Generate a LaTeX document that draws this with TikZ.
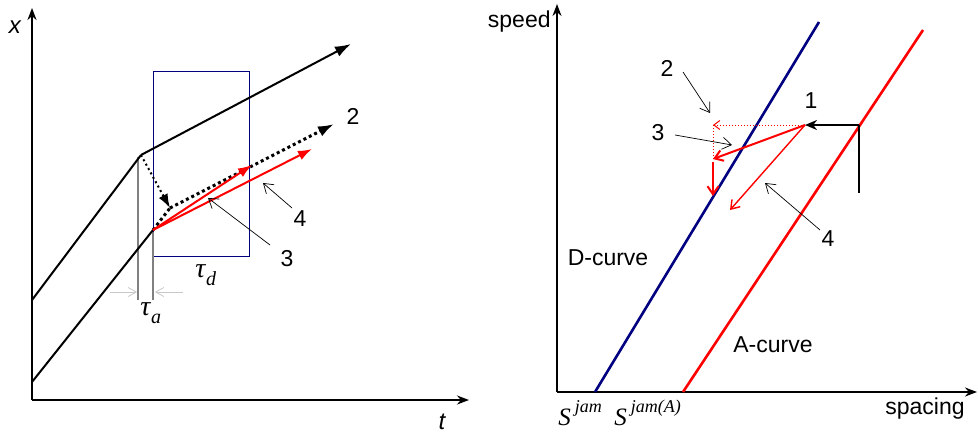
\documentclass[tikz,border=0pt]{standalone}
\usepackage{fontspec}
\setmainfont{Liberation Sans}
\newfontfamily\tms{Liberation Serif}
\definecolor{dblue}{HTML}{000080}
\definecolor{lgray}{HTML}{C8C8C8}
\usetikzlibrary{arrows.meta,calc}
\newcommand{\tauof}[1]{{\tms\itshape\fontsize{14}{16}\selectfont τ\kern0.3pt\raisebox{-0.3em}{\fontsize{10}{11}\selectfont #1}}}
\newcommand{\sjam}[1]{{\tms\itshape\fontsize{12.5}{14}\selectfont S\kern2pt\raisebox{0.5em}{\fontsize{9}{11}\selectfont #1}}}

\begin{document}
\begin{tikzpicture}[x=0.5pt,y=-0.5pt,
  axis/.style={-{Stealth[length=6pt,width=4.5pt]},line width=0.9pt},
  traj/.style={line width=1pt},
  lbl/.style={font=\fontsize{11.5}{13}\selectfont,inner sep=0pt},
  mlbl/.style={inner sep=0pt,anchor=base west},
  ptr/.style={-{Straight Barb[length=4.5pt,width=6pt]},line width=0.35pt},
  gtick/.style={lgray,line width=0.4pt,-{Straight Barb[length=4pt,width=4.5pt]}},
  dots/.style={dash pattern=on 1.5pt off 1.5pt,line width=1.5pt},
  rarr/.style={-{Latex[length=7pt,width=5pt]},red,line width=1pt},
  rbarb/.style={-{Straight Barb[length=4pt,width=5.5pt]},red,line width=1pt}]
  \useasboundingbox (0,0) rectangle (978,433);

  % ---- left: trajectories x(t)
  \coordinate (o1) at (32,400);
  \coordinate (xend) at (32,8);
  \coordinate (tend) at (469,400);
  \coordinate (u0) at (32,300);
  \coordinate (uk) at (141,155);
  \coordinate (ue) at (351,44);
  \coordinate (l0) at (32,382);
  \coordinate (lk) at (153,230);
  \coordinate (dk) at (170,208);
  \coordinate (de) at (334,124);
  \coordinate (r1) at (252,165);
  \coordinate (r2) at (312,149);
  \coordinate (va) at (138,157);
  \coordinate (vb) at (138,300);
  \coordinate (vc) at (153,232);
  \coordinate (vd) at (153,300);

  \draw[axis] (o1) -- (xend);
  \draw[axis] (o1) -- (tend);
  \node[lbl,font=\fontsize{12}{14}\selectfont\itshape] (xlab) at (15,27) {x};
  \node[lbl,font=\fontsize{12}{14}\selectfont\itshape] (tlab) at (442,422) {t};

  \node[draw=dblue,line width=0.5pt,minimum width=48pt,minimum height=92.5pt,
    inner sep=0pt,anchor=north west] (win) at (153,71) {};

  \draw[gray,line width=0.6pt] (va) -- (vb);
  \draw[gray,line width=0.6pt] (vc) -- (vd);
  \draw[gtick] (110,292) coordinate (ga) -- (137,292) coordinate (gb);
  \draw[gtick] (183,292) coordinate (gc) -- (155,292) coordinate (gd);

  \draw[traj] (u0) -- (uk);
  \draw[traj,-{Latex[length=8pt,width=5.5pt]}] (uk) -- (ue);
  \draw[traj] (l0) -- (lk);

  \draw[dash pattern=on 1pt off 1.5pt,line width=1pt] (uk) -- (dk);
  \draw[-{Latex[length=7pt,width=5pt]},line width=1pt] ($(uk)!0.8!(dk)$) -- (dk);
  \draw[dots] (lk) -- (dk);
  \draw[dots,-{Latex[length=8pt,width=5.5pt]}] (dk) -- (de);
  \draw[rarr] (lk) -- (r1);
  \draw[rarr] (lk) -- (r2);

  \node[lbl] (n2a) at (353,116) {2};
  \node[lbl] (n3a) at (287,259) {3};
  \node[lbl] (n4a) at (300,219) {4};
  \coordinate (p3a) at (270,245);
  \coordinate (q3a) at (208,198);
  \coordinate (p4a) at (292,208);
  \coordinate (q4a) at (263,183);
  \draw[ptr] (p3a) -- (q3a);
  \draw[ptr] (p4a) -- (q4a);
  \node[mlbl] (taud) at (195,277) {\tauof{d}};
  \node[mlbl] (taua) at (140,315) {\tauof{a}};

  % ---- right: speed vs spacing
  \coordinate (o2) at (557,392);
  \coordinate (vend) at (557,4);
  \coordinate (send) at (977,392);
  \coordinate (d0) at (595,392);
  \coordinate (d1) at (819,22);
  \coordinate (a0) at (683,392);
  \coordinate (a1) at (923,30);
  \coordinate (s1) at (805,125);
  \coordinate (sq) at (859,125);
  \coordinate (sb) at (859,193);
  \coordinate (s2) at (713,125);
  \coordinate (s3) at (713,159);
  \coordinate (s3b) at (713,162);
  \coordinate (s4) at (713,196);
  \coordinate (s5) at (730,210);

  \draw[axis] (o2) -- (vend);
  \draw[axis] (o2) -- (send);
  \node[lbl,anchor=east] (speed) at (551,22) {speed};
  \node[lbl] (spacing) at (925,409) {spacing};

  \draw[dblue,line width=1.3pt] (d0) -- (d1);
  \draw[red,line width=1.3pt] (a0) -- (a1);
  \node[lbl] (dcurve) at (608,258) {D-curve};
  \node[lbl] (acurve) at (773,345) {A-curve};

  \draw[traj] (sb) -- (sq);
  \draw[traj,-{Stealth[length=6pt,width=5pt]}] (sq) -- (s1);
  \draw[red,line width=0.5pt,densely dotted,-{Straight Barb[length=3pt,width=4.5pt]}] (s1) -- (s2);
  \draw[red,line width=0.5pt,densely dotted] (s2) -- (s3);
  \draw[rbarb] (s1) -- (s3);
  \draw[rbarb] (s3b) -- (s4);
  \draw[rbarb,line width=0.7pt] (s1) -- (s5);

  \node[lbl] (n1b) at (811,101) {1};
  \node[lbl] (n2b) at (667,68) {2};
  \node[lbl] (n3b) at (658,133) {3};
  \node[lbl] (n4b) at (828,239) {4};
  \coordinate (p2b) at (683,72);
  \coordinate (q2b) at (710,113);
  \coordinate (p3b) at (675,135);
  \coordinate (q3b) at (732,145);
  \coordinate (p4b) at (820,230);
  \coordinate (q4b) at (765,183);
  \draw[ptr] (p2b) -- (q2b);
  \draw[ptr] (p3b) -- (q3b);
  \draw[ptr] (p4b) -- (q4b);

  \node[mlbl] (sjam) at (558,425) {\sjam{jam}};
  \node[mlbl] (sjama) at (614,425) {\sjam{jam(A)}};
\end{tikzpicture}
\end{document}
